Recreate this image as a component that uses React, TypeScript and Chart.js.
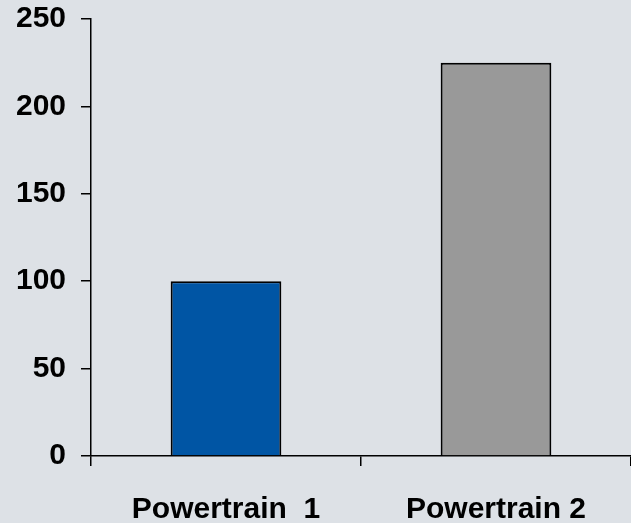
import React, { useEffect, useRef } from "react";
import { Chart, registerables } from "chart.js";

Chart.register(...registerables);

const categories = ["Powertrain  1", "Powertrain 2"];
const values = [100, 225];
const barColors = ["#0055a4", "#999999"];
const yMin = 0;
const yMax = 250;
const yStep = 50;

const FONT = { family: "'Liberation Sans', Arial, Helvetica, sans-serif", size: 30, weight: "bold" as const };

export default function App() {
  const ref = useRef<HTMLCanvasElement | null>(null);

  useEffect(() => {
    document.body.style.margin = "0";
    const ctx = ref.current!;
    const chart = new Chart(ctx, {
      type: "bar",
      data: {
        labels: categories,
        datasets: [
          {
            data: values,
            backgroundColor: barColors,
            borderColor: "#000000",
            borderWidth: 2,
            categoryPercentage: 1,
            barPercentage: 0.41,
          },
        ],
      },
      options: {
        animation: false,
        responsive: false,
        maintainAspectRatio: false,
        layout: { padding: { top: 19, left: 0, right: 0, bottom: 0 } },
        plugins: {
          legend: { display: false },
          tooltip: { enabled: false },
        },
        scales: {
          x: {
            grid: {
              display: true,
              drawOnChartArea: false,
              drawTicks: true,
              tickLength: 10,
              color: "#000000",
              lineWidth: 1.5,
              offset: true,
            },
            border: { display: true, color: "#000000", width: 1.5 },
            ticks: { color: "#000000", font: FONT, padding: 26, maxRotation: 0, autoSkip: false },
            afterFit: (scale: any) => {
              scale.height = 67;
              scale.paddingLeft = 0;
              scale.paddingRight = 0;
            },
          },
          y: {
            min: yMin,
            max: yMax,
            grid: {
              display: true,
              drawOnChartArea: false,
              drawTicks: true,
              tickLength: 10,
              color: "#000000",
              lineWidth: 1.5,
            },
            border: { display: true, color: "#000000", width: 1.5 },
            ticks: { stepSize: yStep, color: "#000000", font: FONT, padding: 15 },
            afterFit: (scale: any) => {
              scale.width = 91;
              scale.paddingTop = 0;
              scale.paddingBottom = 0;
            },
          },
        },
      },
    });
    return () => chart.destroy();
  }, []);

  return (
    <div style={{ position: "absolute", left: 0, top: 0, width: 631, height: 523, background: "#dde1e6" }}>
      <canvas ref={ref} width={631} height={523} style={{ width: 631, height: 523, display: "block" }} />
    </div>
  );
}
